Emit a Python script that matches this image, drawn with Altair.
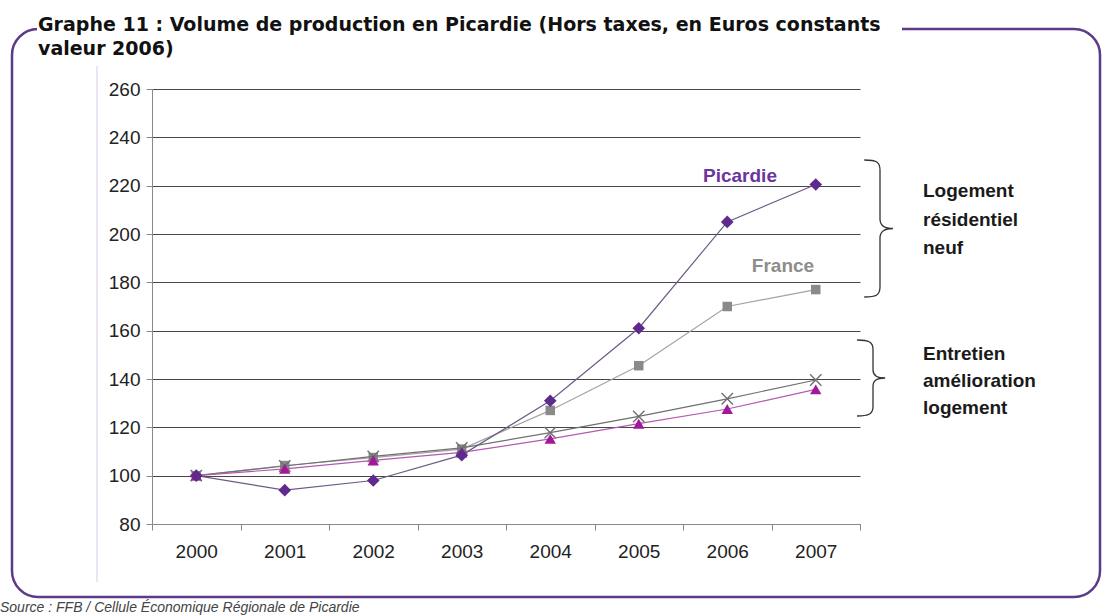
import altair as alt
import pandas as pd

years = ["2000", "2001", "2002", "2003", "2004", "2005", "2006", "2007"]
picardie_neuf = [100, 94, 98, 108.5, 131, 161, 205, 220.5]
france_neuf = [100, 104.2, 107.5, 111, 127, 145.5, 170, 177]
france_entretien = [100, 104, 108, 111.5, 117.8, 124.5, 131.8, 139.6]
picardie_entretien = [100, 102.8, 106.3, 109.6, 115.2, 121.5, 127.6, 135.7]

title_lines = ["Graphe 11 : Volume de production en Picardie (Hors taxes, en Euros constants",
               "valeur 2006)"]
group_top = ["Logement", "résidentiel", "neuf"]
group_bottom = ["Entretien", "amélioration", "logement"]
source_text = "Source : FFB / Cellule Économique Régionale de Picardie"

W, H = 708, 435
PL, PT = 152, 89
FONT = "Liberation Sans, Arial, sans-serif"

x_enc = alt.X("year:O", scale=alt.Scale(type="band", paddingInner=0, paddingOuter=0),
              axis=alt.Axis(title=None, labelAngle=0, tickBand="extent", labelFontSize=19,
                            labelFont=FONT, labelColor="#222222", labelPadding=12,
                            tickSize=6, tickColor="#888888", domainColor="#888888", grid=False))
y_enc = alt.Y("value:Q", scale=alt.Scale(domain=[80, 260], nice=False, zero=False),
              axis=alt.Axis(title=None, values=list(range(80, 261, 20)), labelFontSize=19,
                            labelFont=FONT, labelColor="#222222", labelPadding=6,
                            tickSize=6, tickColor="#888888", domainColor="#888888",
                            grid=True, gridColor="#474747", gridWidth=1))

one = pd.DataFrame({"k": [0]})

def series_layers(vals, line_color, shape, mcolor, size, filled=True, stroke_w=1.2):
    df = pd.DataFrame({"year": years, "value": vals})
    base = alt.Chart(df)
    line = base.mark_line(color=line_color, strokeWidth=stroke_w).encode(x=x_enc, y=y_enc)
    if filled:
        pts = base.mark_point(shape=shape, filled=True, color=mcolor, size=size, opacity=1).encode(x=x_enc, y=y_enc)
    else:
        pts = base.mark_point(shape=shape, filled=False, color=mcolor, size=size, opacity=1,
                              strokeWidth=1.4).encode(x=x_enc, y=y_enc)
    return [line, pts]

# frame (transparent fill so axes and grid stay visible)
frame = alt.Chart(one).mark_rect(fill="white", fillOpacity=0, stroke="#5b3a87", strokeWidth=2.5,
                                 cornerRadius=26).encode(
    x=alt.value(12 - PL), x2=alt.value(1100 - PL), y=alt.value(29 - PT), y2=alt.value(597 - PT))
cover = alt.Chart(one).mark_rect(fill="white").encode(
    x=alt.value(37 - PL), x2=alt.value(902 - PL), y=alt.value(2 - PT), y2=alt.value(62 - PT))
faint = alt.Chart(one).mark_rule(color="#e4dcef", strokeWidth=1.5).encode(
    x=alt.value(97 - PL), y=alt.value(66 - PT), y2=alt.value(582 - PT))
title = alt.Chart(one).mark_text(font="DejaVu Sans", fontWeight="bold", fontSize=19, align="left",
                                 baseline="alphabetic", lineHeight=23.5, color="#111111").encode(
    x=alt.value(38 - PL), y=alt.value(31 - PT), text=alt.value(title_lines))

layers = [frame, cover, faint]
layers += series_layers(france_neuf, "#a3a3a3", "square", "#8a8a8a", 90)
layers += series_layers(france_entretien, "#707070", "M-1,-1L1,1M-1,1L1,-1", "#707070", 130, filled=False)
layers += series_layers(picardie_entretien, "#b55aae", "triangle-up", "#a0199a", 130)
layers += series_layers(picardie_neuf, "#6e5a86", "diamond", "#5e2a8c", 160)

lab_pic = alt.Chart(one).mark_text(font=FONT, fontWeight="bold", fontSize=19, color="#6b35a0",
                                   baseline="middle", align="center").encode(
    x=alt.value(740 - PL), y=alt.value(176 - PT), text=alt.value("Picardie"))
lab_fr = alt.Chart(one).mark_text(font=FONT, fontWeight="bold", fontSize=19, color="#8d8d8d",
                                  baseline="middle", align="center").encode(
    x=alt.value(783 - PL), y=alt.value(266 - PT), text=alt.value("France"))

brace_top = ("M-0.23,-1 C-0.05,-1 0,-0.97 0,-0.85 L0,-0.14 C0,-0.04 0.07,0 0.19,0 "
             "C0.07,0 0,0.04 0,0.14 L0,0.85 C0,0.97 -0.05,1 -0.23,1")
brace_bot = ("M-0.42,-1 C-0.1,-1 0,-0.94 0,-0.75 L0,-0.22 C0,-0.06 0.1,0 0.32,0 "
             "C0.1,0 0,0.06 0,0.22 L0,0.75 C0,0.94 -0.1,1 -0.42,1")
b1 = alt.Chart(one).mark_point(shape=brace_top, filled=False, size=137 * 137, color="#333333",
                               strokeWidth=1.3, opacity=1).encode(
    x=alt.value(880 - PL), y=alt.value(228.5 - PT))
b2 = alt.Chart(one).mark_point(shape=brace_bot, filled=False, size=76 * 76, color="#333333",
                               strokeWidth=1.3, opacity=1).encode(
    x=alt.value(873 - PL), y=alt.value(378 - PT))

t1 = alt.Chart(one).mark_text(font=FONT, fontWeight="bold", fontSize=19, color="#1a1a1a",
                              align="left", baseline="alphabetic", lineHeight=28.5).encode(
    x=alt.value(923 - PL), y=alt.value(197 - PT), text=alt.value(group_top))
t2 = alt.Chart(one).mark_text(font=FONT, fontWeight="bold", fontSize=19, color="#1a1a1a",
                              align="left", baseline="alphabetic", lineHeight=27).encode(
    x=alt.value(923 - PL), y=alt.value(360 - PT), text=alt.value(group_bottom))
src = alt.Chart(one).mark_text(font=FONT, fontStyle="italic", fontSize=14, color="#444444",
                               align="left", baseline="alphabetic").encode(
    x=alt.value(0 - PL), y=alt.value(612 - PT), text=alt.value(source_text))

layers += [lab_pic, lab_fr, b1, b2, t1, t2, src, title]

chart = alt.layer(*layers).properties(
    width=W, height=H,
    autosize=alt.AutoSizeParams(type="none"),
    padding={"left": PL, "top": PT, "right": 1106 - PL - W, "bottom": 616 - PT - H},
    background="white",
).configure_view(stroke=None)

chart.save("out.html", embed_options={"renderer": "svg", "actions": False})
